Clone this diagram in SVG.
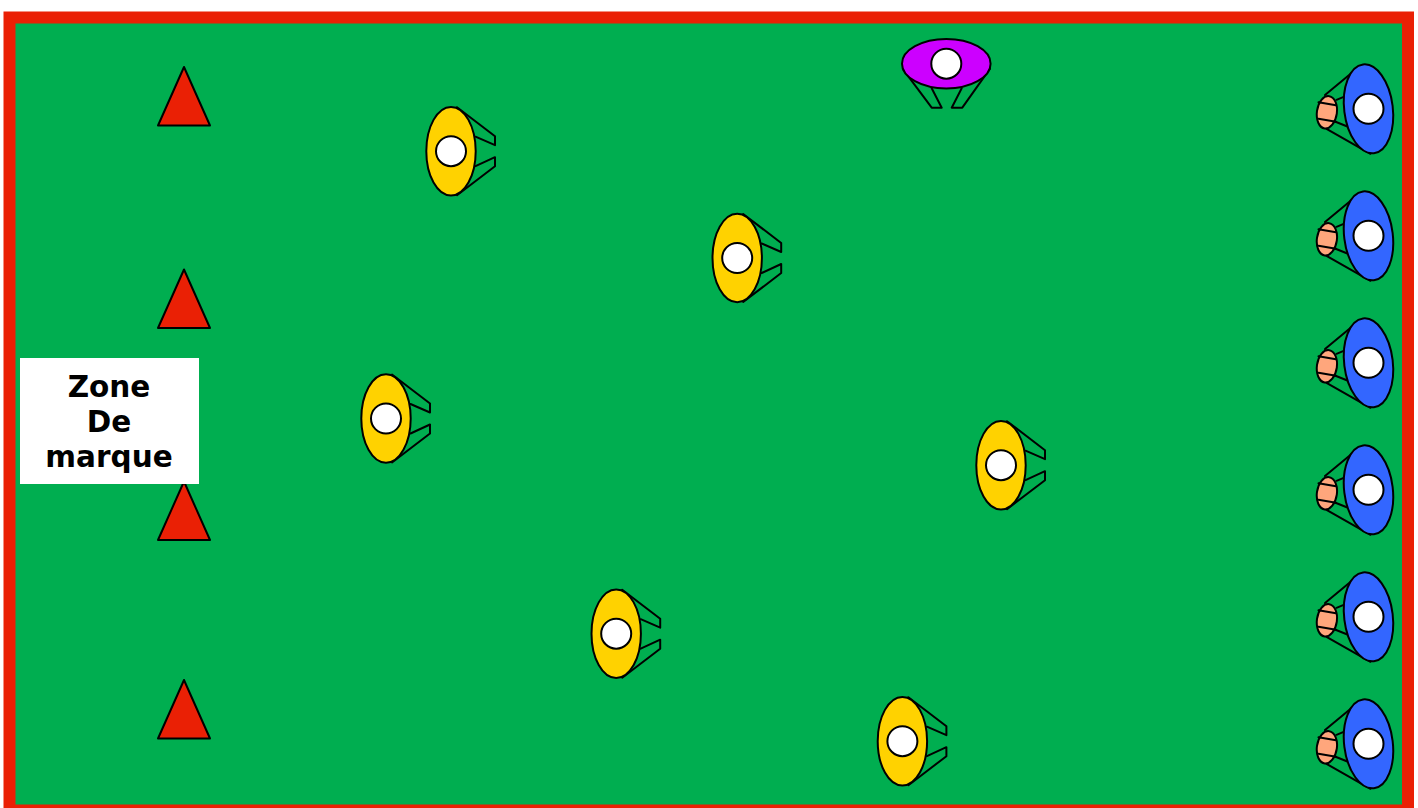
<svg xmlns="http://www.w3.org/2000/svg" width="1418" height="808" viewBox="0 0 1418 808">
<style>
.s{stroke:#000;stroke-width:2;stroke-linejoin:round;stroke-linecap:round}
.o{fill:none}
.h{fill:#fff}
.y{fill:#ffd200}
.b{fill:#3366ff}
.p{fill:#cc00ff}
.c{fill:#ea2005}
.f{fill:#ffa67c}
.t{font:bold 29.5px "DejaVu Sans",sans-serif;text-anchor:middle;fill:#000}
</style>
<defs>
<g id="att">
<path class="s o" d="M6-44 44-15V-6L24.500-14.500M24.500 15 44 6V15L6 44"/>
<ellipse class="s y" cx="0" cy="0" rx="24.700" ry="44.300"/>
<circle class="s h" cx="0" cy="0" r="15"/>
</g>
<g id="def">
<path class="s o" d="M-43 6-14.600 44H-4.600L-14.600 24.600M15.400 24.600 5.400 44H16L43.700 5"/>
<ellipse class="s p" cx="0" cy="0" rx="44.300" ry="24.700"/>
<circle class="s h" cx="0" cy="0" r="15"/>
</g>
<g id="car">
<path class="s o" d="M-43.500-13.700-13-39M-32-9-20-14M-33 13-18 19M-42 20 2 45"/>
<ellipse class="s f" cx="-41.600" cy="3.500" rx="10" ry="16.300" transform="rotate(8 -41.600 3.500)"/>
<path class="s o" d="M-50-6.500-32.500-3.500M-50 10-32.500 13"/>
<ellipse class="s b" cx="0" cy="0" rx="24.300" ry="44.700" transform="rotate(-7)"/>
<circle class="s h" cx="0" cy="0" r="15"/>
</g>
<path id="cone" class="s c" d="M0 0 26 58.500H-26Z"/>
</defs>
<g id="terrain"><rect x="9.500" y="17.500" width="1398.500" height="793" fill="#00ae50" stroke="#ea2005" stroke-width="12"/></g>
<g id="connectors"></g>
<g id="cone-1"><use href="#cone" x="184" y="67"/></g>
<g id="cone-2"><use href="#cone" x="184" y="269.500"/></g>
<g id="cone-3"><use href="#cone" x="184" y="481.500"/></g>
<g id="cone-4"><use href="#cone" x="184" y="680"/></g>
<g id="zone"><rect x="20" y="358" width="179" height="126" fill="#fff"/>
<text class="t" x="109" y="397">Zone</text><text class="t" x="109" y="432">De</text><text class="t" x="109" y="467">marque</text></g>
<g id="attaquant-1"><use href="#att" x="451" y="151.200"/></g>
<g id="attaquant-2"><use href="#att" x="737.200" y="258"/></g>
<g id="attaquant-3"><use href="#att" x="386" y="418.500"/></g>
<g id="attaquant-4"><use href="#att" x="1001" y="465.200"/></g>
<g id="attaquant-5"><use href="#att" x="616.200" y="633.700"/></g>
<g id="attaquant-6"><use href="#att" x="902.400" y="741.200"/></g>
<g id="defenseur"><use href="#def" x="946.300" y="63.700"/></g>
<g id="porteur-1"><use href="#car" x="1368.500" y="108.800"/></g>
<g id="porteur-2"><use href="#car" x="1368.500" y="235.800"/></g>
<g id="porteur-3"><use href="#car" x="1368.500" y="362.800"/></g>
<g id="porteur-4"><use href="#car" x="1368.500" y="489.800"/></g>
<g id="porteur-5"><use href="#car" x="1368.500" y="616.800"/></g>
<g id="porteur-6"><use href="#car" x="1368.500" y="743.800"/></g>
</svg>
